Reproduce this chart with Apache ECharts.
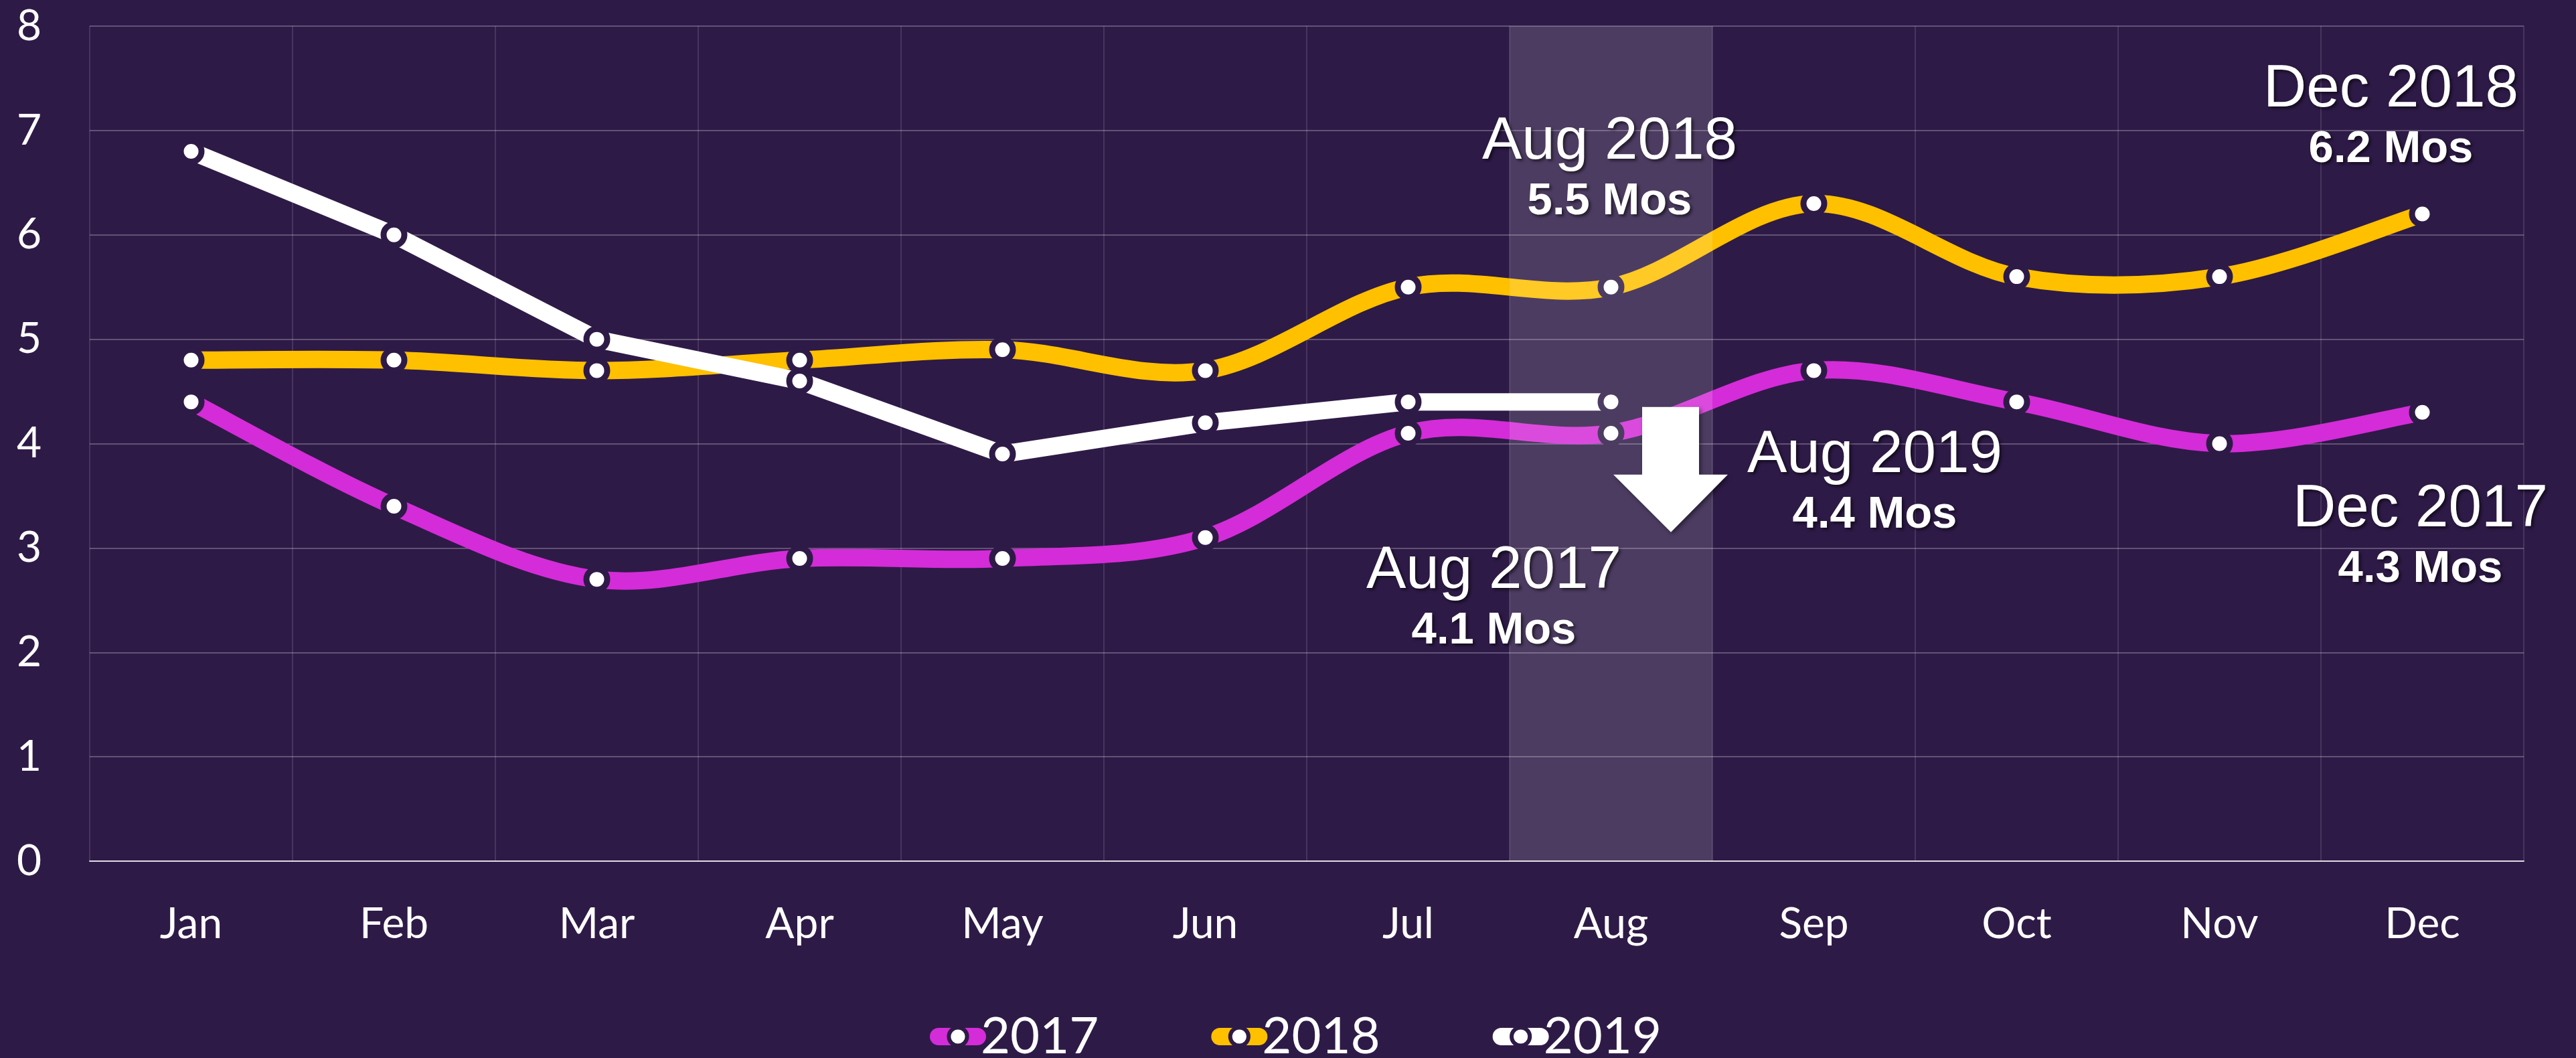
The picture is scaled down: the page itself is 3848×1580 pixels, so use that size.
<!DOCTYPE html>
<html>
<head>
<meta charset="utf-8">
<script src="https://cdn.jsdelivr.net/npm/echarts@6/dist/echarts.min.js"></script>
<style>
  html, body { margin: 0; padding: 0; background: #2e1a47; }
  #chart-container { width: 3848px; height: 1580px; }
</style>
</head>
<body>
<div id="chart-container"></div>
<script>
var months = ['Jan', 'Feb', 'Mar', 'Apr', 'May', 'Jun', 'Jul', 'Aug', 'Sep', 'Oct', 'Nov', 'Dec'];
var years = ['2017', '2018', '2019'];
var v2017 = [4.4, 3.4, 2.7, 2.9, 2.9, 3.1, 4.1, 4.1, 4.7, 4.4, 4.0, 4.3];
var v2018 = [4.8, 4.8, 4.7, 4.8, 4.9, 4.7, 5.5, 5.5, 6.3, 5.6, 5.6, 6.2];
var v2019 = [6.8, 6.0, 5.0, 4.6, 3.9, 4.2, 4.4, 4.4];
var yMin = 0, yMax = 8, yStep = 1;
var highlightMonth = 'Aug';

var BG = '#2e1a47';
var colors = ['#d42cd8', '#ffc000', '#ffffff'];
var LINE_W = 26;

var dom = document.getElementById('chart-container');
var myChart = echarts.init(dom, null, { renderer: 'canvas' });

var shadow = {
  textShadowColor: 'rgba(0,0,0,0.55)',
  textShadowBlur: 4,
  textShadowOffsetX: 3,
  textShadowOffsetY: 3
};

// text callout anchored on a data point, shifted by an offset
function note(month, values, year, dx, dy) {
  var i = months.indexOf(month);
  return {
    coord: [month, values[i]],
    symbol: 'circle',
    symbolSize: 1,
    itemStyle: { color: 'transparent' },
    label: {
      show: true,
      position: 'inside',
      offset: [dx, dy],
      align: 'center',
      verticalAlign: 'middle',
      formatter: '{a|' + month + ' ' + year + '}\n{b|' + values[i].toFixed(1) + ' Mos}',
      rich: {
        a: Object.assign({ fontFamily: 'Liberation Sans, Arial', fontSize: 89, color: '#fff', lineHeight: 90, align: 'center' }, shadow),
        b: Object.assign({ fontFamily: 'Liberation Sans, Arial', fontWeight: 'bold', fontSize: 67, color: '#fff', lineHeight: 88, align: 'center' }, shadow)
      }
    }
  };
}

// line series: markers + callouts; the curve itself may be drawn by curveSeries
function lineSeries(name, data, color, showLine, notes) {
  return {
    name: name,
    type: 'line',
    data: data,
    smooth: false,
    z: 2,
    symbol: 'circle',
    symbolSize: 31,
    showAllSymbol: true,
    lineStyle: { color: color, width: LINE_W, opacity: showLine ? 1 : 0 },
    itemStyle: { color: '#fff', borderColor: BG, borderWidth: 9 },
    emphasis: { disabled: true },
    markPoint: { silent: true, data: notes }
  };
}

// smooth curve through the points (catmull-rom style, like office charts)
function curveSeries(name, values, color) {
  return {
    name: name + '-curve',
    type: 'custom',
    z: 1,
    silent: true,
    data: values.map(function (v, i) { return [i, v]; }),
    encode: { x: 0, y: 1 },
    renderItem: function (params, api) {
      var i = params.dataIndex;
      var n = values.length;
      if (i >= n - 1) return null;
      var p = function (k) {
        k = Math.max(0, Math.min(n - 1, k));
        return api.coord([k, values[k]]);
      };
      var p0 = p(i - 1), p1 = p(i), p2 = p(i + 1), p3 = p(i + 2);
      return {
        type: 'bezierCurve',
        shape: {
          x1: p1[0], y1: p1[1],
          cpx1: p1[0] + (p2[0] - p0[0]) / 6, cpy1: p1[1] + (p2[1] - p0[1]) / 6,
          cpx2: p2[0] - (p3[0] - p1[0]) / 6, cpy2: p2[1] - (p3[1] - p1[1]) / 6,
          x2: p2[0], y2: p2[1]
        },
        style: { stroke: color, lineWidth: LINE_W, fill: 'none' }
      };
    }
  };
}

var arrow = {
  coord: [highlightMonth, v2019[months.indexOf(highlightMonth)]],
  symbol: 'path://M43 0L128 0L128 101L171 101L86 187L0 101L43 101Z',
  symbolSize: [171, 187],
  symbolOffset: [89, 101],
  itemStyle: { color: '#fff', shadowColor: 'rgba(0,0,0,0.45)', shadowBlur: 6, shadowOffsetX: 3, shadowOffsetY: 3 },
  label: { show: false }
};

var option = {
  backgroundColor: BG,
  animation: false,
  grid: { left: 134, right: 78, top: 39, bottom: 294 },
  legend: {
    data: years.map(function (y, k) {
      return {
        name: y,
        lineStyle: { color: colors[k], width: LINE_W, opacity: 1, cap: 'round' },
        itemStyle: { color: '#fff', borderColor: BG, borderWidth: 6 }
      };
    }),
    top: 1505,
    left: 1384,
    itemWidth: 58,
    itemHeight: 34,
    itemGap: 168,
    textStyle: { color: '#fff', fontFamily: 'Lato', fontSize: 76 }
  },
  xAxis: {
    type: 'category',
    data: months,
    boundaryGap: true,
    axisLine: { show: true, lineStyle: { color: 'rgba(255,255,255,0.8)', width: 2 } },
    axisTick: { show: false },
    axisLabel: { color: '#fff', fontFamily: 'Lato', fontSize: 64, margin: 62 },
    splitLine: { show: true, lineStyle: { color: 'rgba(255,255,255,0.12)', width: 2 } }
  },
  yAxis: {
    type: 'value',
    min: yMin,
    max: yMax,
    interval: yStep,
    axisLine: { show: false },
    axisTick: { show: false },
    axisLabel: { color: '#fff', fontFamily: 'Lato', fontSize: 64, margin: 72 },
    splitLine: { lineStyle: { color: 'rgba(255,255,255,0.25)', width: 2 } }
  },
  series: [
    curveSeries('2017', v2017, colors[0]),
    curveSeries('2018', v2018, colors[1]),
    lineSeries('2017', v2017, colors[0], false, [
      note('Aug', v2017, '2017', -175, 251),
      note('Dec', v2017, '2017', -3, 190)
    ]),
    lineSeries('2018', v2018, colors[1], false, [
      note('Aug', v2018, '2018', -2, -172),
      note('Dec', v2018, '2018', -47, -141)
    ]),
    lineSeries('2019', v2019, colors[2], true, [
      note('Aug', v2019, '2019', 394, 124),
      arrow
    ]),
    {
      name: 'highlight',
      type: 'bar',
      z: 3,
      barWidth: '100%',
      silent: true,
      data: months.map(function (m) { return m === highlightMonth ? yMax : null; }),
      itemStyle: { color: 'rgba(255,255,255,0.15)' },
      emphasis: { disabled: true }
    }
  ]
};

myChart.setOption(option);
window.addEventListener('resize', myChart.resize);
</script>
</body>
</html>
